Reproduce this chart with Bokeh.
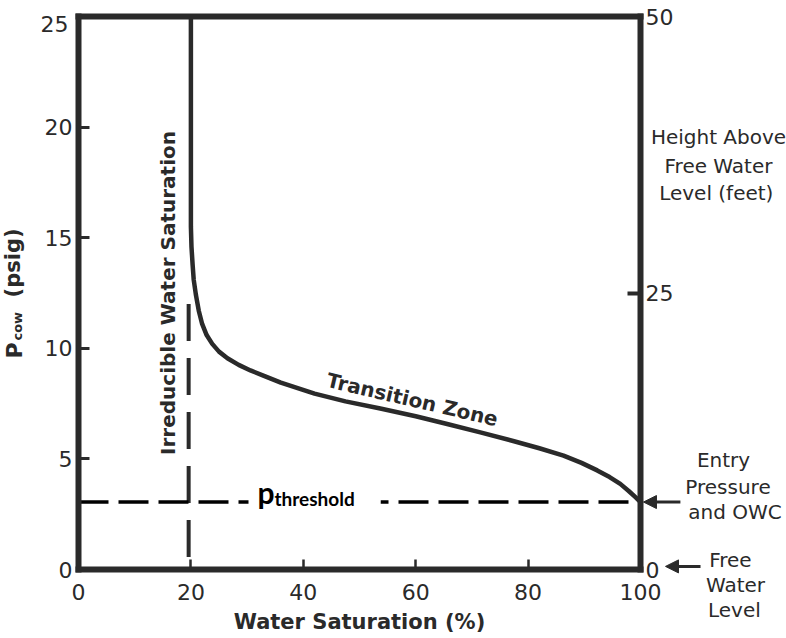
import math
from bokeh.plotting import figure
from bokeh.models import Range1d, LinearAxis, Label, Arrow, NormalHead, FixedTicker
from bokeh.embed import file_html
from bokeh.resources import INLINE

# ---- data ----
sw_curve = [20.0, 20.0, 20.0, 20.0, 20.1, 20.3, 20.5, 20.9, 21.4, 22.0, 22.8, 23.8,
            25.0, 26.5, 28.5, 30.6, 33.0, 36.0, 39.0, 42.0, 47.5, 53.7, 60.0, 65.6,
            71.5, 77.5, 82.0, 86.3, 89.5, 92.3, 94.5, 96.4, 97.9, 99.1, 100.0]
pcow_curve = [25.0, 20.0, 17.6, 15.5, 14.6, 13.8, 13.1, 12.4, 11.7, 11.1, 10.6, 10.2,
              9.85, 9.55, 9.25, 9.0, 8.75, 8.45, 8.2, 7.95, 7.6, 7.28, 6.93, 6.58,
              6.2, 5.8, 5.48, 5.15, 4.82, 4.48, 4.18, 3.87, 3.55, 3.27, 3.05]
p_threshold = 3.05
sw_irreducible = 19.6
irreducible_top = 12.0
x_ticks = [0, 20, 40, 60, 80, 100]
y_ticks = [0, 5, 10, 15, 20, 25]
height_ticks = [0, 25, 50]

INK = "#2a2a2a"
FONT = "DejaVu Sans"

# ---- layout: the frame fills the canvas; axes are pinned at data locations ----
W, H = 786, 636
PX_X = 5.62      # pixels per % saturation
PX_Y = 22.12     # pixels per psi
X0, Y0 = 78, 569  # canvas pixel of the origin
x_lo, x_hi = -X0 / PX_X, (W - X0) / PX_X
y_lo, y_hi = -(H - Y0) / PX_Y, Y0 / PX_Y
h_scale = height_ticks[-1] / y_ticks[-1]

p = figure(width=W, height=H, output_backend="svg", toolbar_location=None,
           x_range=Range1d(x_lo, x_hi), y_range=Range1d(y_lo, y_hi),
           min_border=0, min_border_left=0, min_border_right=0,
           min_border_top=0, min_border_bottom=0)
p.grid.visible = False
p.outline_line_color = None
p.background_fill_color = "white"
p.border_fill_color = "white"


def style_axis(ax, tick_in, tick_w, standoff):
    ax.axis_line_color = INK
    ax.axis_line_width = 6
    ax.axis_line_cap = "square"
    ax.major_tick_line_color = INK
    ax.major_tick_line_width = tick_w
    ax.major_tick_in = tick_in
    ax.major_tick_out = 0
    ax.minor_tick_line_color = None
    ax.major_label_text_font = FONT
    ax.major_label_text_font_size = "22px"
    ax.major_label_text_color = INK
    ax.major_label_standoff = standoff


ya = p.yaxis[0]
ya.ticker = FixedTicker(ticks=y_ticks)
ya.fixed_location = x_ticks[0]
ya.bounds = (y_ticks[0], y_ticks[-1])
ya.major_label_overrides = {y_ticks[-1]: ""}
style_axis(ya, 11, 3, 6)

xa = p.xaxis[0]
xa.ticker = FixedTicker(ticks=x_ticks)
xa.fixed_location = y_ticks[0]
xa.bounds = (x_ticks[0], x_ticks[-1])
style_axis(xa, 10, 2.5, 14)
xa.axis_label = "Water Saturation (%)"
xa.axis_label_text_font = FONT
xa.axis_label_text_font_style = "bold"
xa.axis_label_text_font_size = "21px"
xa.axis_label_text_color = INK
xa.axis_label_standoff = 7

# right axis: height above free water level (feet)
p.extra_y_ranges = {"h": Range1d(y_lo * h_scale, y_hi * h_scale)}
ra = LinearAxis(y_range_name="h", ticker=FixedTicker(ticks=height_ticks))
ra.fixed_location = x_ticks[-1]
ra.bounds = (height_ticks[0], height_ticks[-1])
style_axis(ra, 13, 4, 5)
p.add_layout(ra, "right")

# top border
ta = LinearAxis(ticker=FixedTicker(ticks=[]))
ta.fixed_location = y_ticks[-1]
ta.bounds = (x_ticks[0], x_ticks[-1])
style_axis(ta, 0, 0, 0)
p.add_layout(ta, "above")

# top-left tick label, shifted down into the corner as in the original
p.add_layout(Label(x=-1.8, y=24.68, text=str(y_ticks[-1]), text_align="right",
                   text_baseline="middle", text_font=FONT, text_font_size="22px",
                   text_color=INK))

# capillary pressure curve
p.line(sw_curve, pcow_curve, line_color=INK, line_width=4.5, line_join="round")
# irreducible water saturation dashed line
p.line([sw_irreducible, sw_irreducible], [irreducible_top, y_ticks[0]],
       line_color=INK, line_width=4, line_dash="37 17")
# threshold pressure dashed line
p.line([x_ticks[0], x_ticks[-1]], [p_threshold, p_threshold],
       line_color="black", line_width=3.5, line_dash="30 10")

# y axis label composed manually (P with subscript cow)
p.add_layout(Label(x=-11.33, y=9.54, text="P", angle=math.pi / 2, text_align="left",
                   text_baseline="alphabetic", text_font=FONT, text_font_style="bold",
                   text_font_size="22px", text_color=INK))
p.add_layout(Label(x=-10.94, y=10.35, text="cow", angle=math.pi / 2, text_align="left",
                   text_baseline="alphabetic", text_font=FONT, text_font_style="bold",
                   text_font_size="13px", text_color=INK))
p.add_layout(Label(x=-11.64, y=12.3, text="(psig)", angle=math.pi / 2, text_align="left",
                   text_baseline="alphabetic", text_font=FONT, text_font_style="bold",
                   text_font_size="21px", text_color=INK))

# in-plot labels
p.add_layout(Label(x=16.0, y=12.5, text="Irreducible Water Saturation", angle=math.pi / 2,
                   text_align="center", text_baseline="middle", text_font=FONT,
                   text_font_style="bold", text_font_size="20px", text_color=INK))
p.add_layout(Label(x=59.4, y=7.68, text="Transition Zone", angle=-0.229,
                   text_align="center", text_baseline="middle", text_font=FONT,
                   text_font_style="bold", text_font_size="20px", text_color=INK))
# p_threshold: white boxes break the dashed line around the text
p.add_layout(Label(x=30.25, y=3.20, text="threshold", text_align="left",
                   text_baseline="alphabetic", text_font="Lato", text_font_style="bold",
                   text_font_size="19px", text_color="black",
                   background_fill_color="white", padding=26))
p.add_layout(Label(x=31.85, y=3.50, text="p", text_align="left", text_baseline="alphabetic",
                   text_font="Lato", text_font_style="bold", text_font_size="30px",
                   text_color="black", padding=0))


# right side annotations
def side(x, y, t):
    p.add_layout(Label(x=x, y=y, text=t, text_align="center", text_baseline="middle",
                       text_font=FONT, text_font_size="20px", text_color=INK))


side(113.88, 19.53, "Height Above")
side(113.88, 18.26, "Free Water")
side(114.05, 17.04, "Level  (feet)")
side(114.77, 4.97, "Entry")
side(115.57, 3.75, "Pressure")
side(116.81, 2.58, "and OWC")
side(116.0, 0.41, "Free")
side(116.9, -0.72, "Water")
side(116.7, -1.81, "Level")

p.add_layout(Arrow(x_start=107.1, y_start=p_threshold, x_end=100.53, y_end=p_threshold,
                   line_color=INK, line_width=3,
                   end=NormalHead(size=13, fill_color=INK, line_color=INK)))
p.add_layout(Arrow(x_start=110.68, y_start=0.14, x_end=104.45, y_end=0.14,
                   line_color=INK, line_width=3,
                   end=NormalHead(size=13, fill_color=INK, line_color=INK)))

open("out.html", "w").write(file_html(p, INLINE))
